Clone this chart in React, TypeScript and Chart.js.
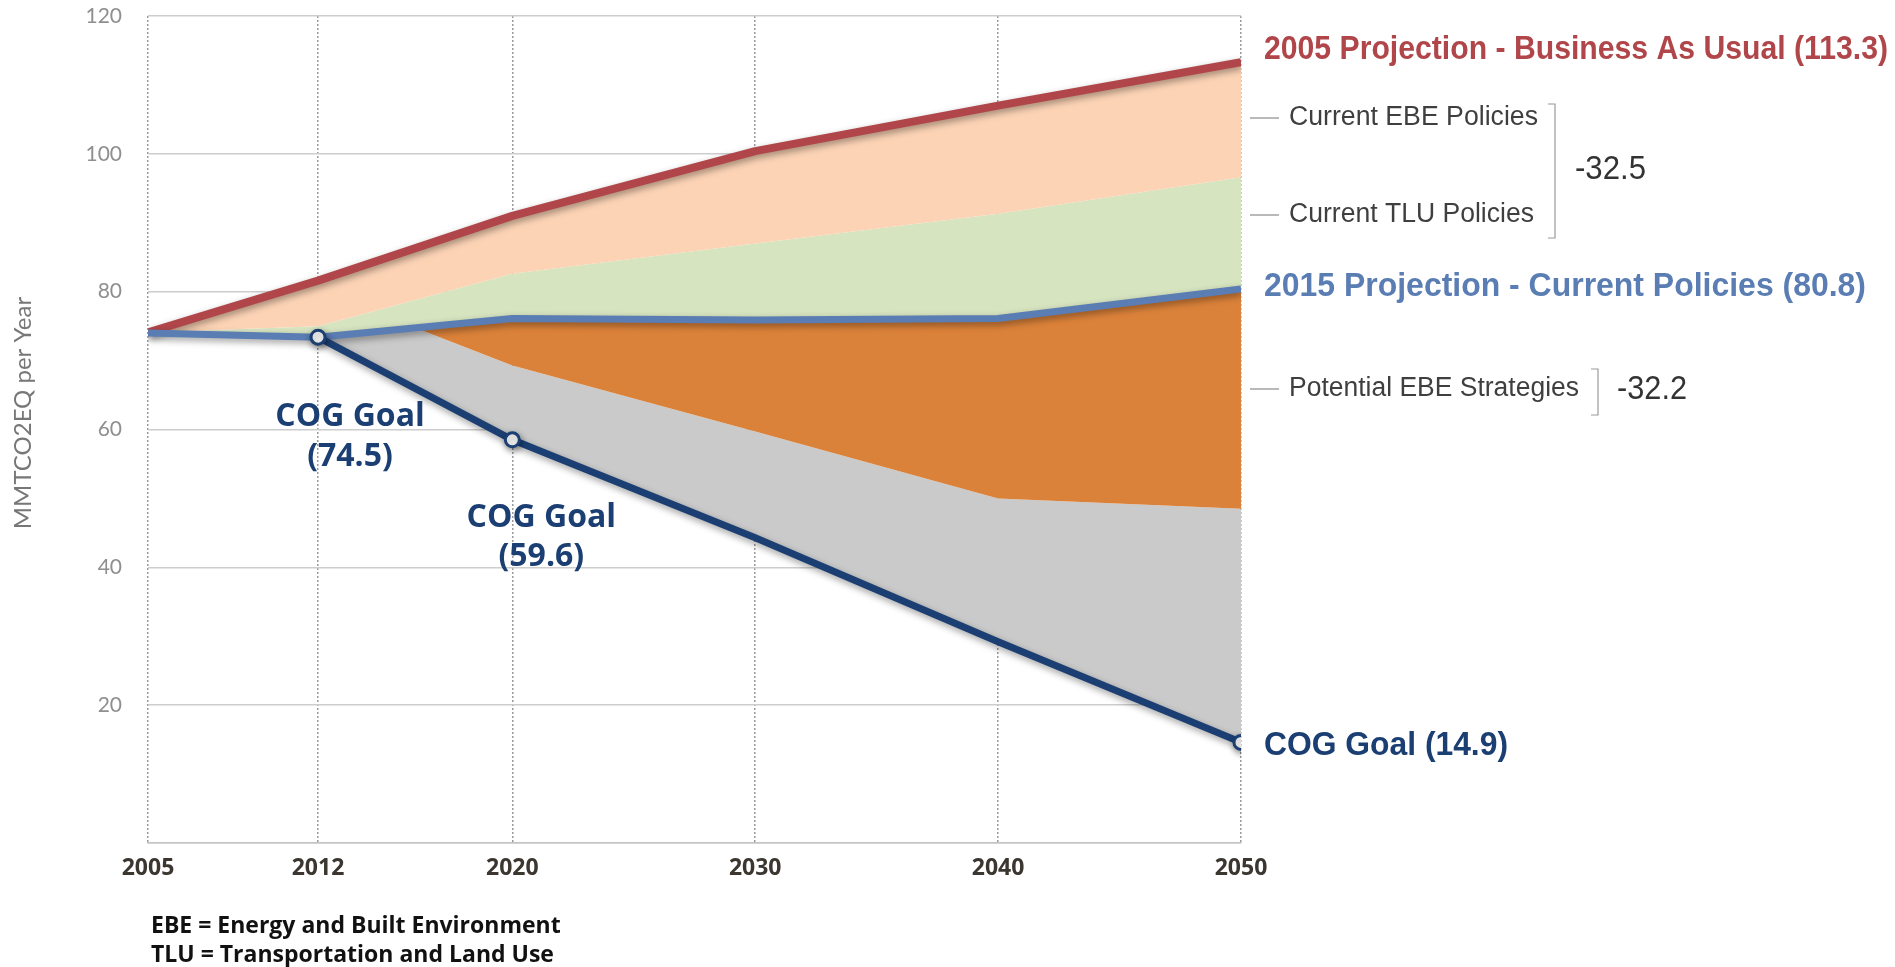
import React, { useEffect, useRef } from "react";
import { Chart, registerables } from "chart.js";

Chart.register(...registerables);

// ---------- data ----------
const years = [2005, 2012, 2020, 2030, 2040, 2050];
const yTickValues = [0, 20, 40, 60, 80, 100, 120];
const bauValues = [74.1, 81.6, 91.0, 100.4, 107.0, 113.3]; // 2005 Projection - Business As Usual
const tluTopValues = [74.1, 75.0, 82.6, 87.0, 91.3, 96.6]; // upper edge of Current TLU Policies wedge
const currentValues = [74.0, 73.4, 76.1, 75.9, 76.1, 80.4]; // 2015 Projection - Current Policies
const strategyYears = [2012, 2016, 2020, 2030, 2040, 2050];
const strategyBottomValues = [73.4, 74.75, 69.3, 59.7, 50.0, 48.5]; // lower edge of Potential EBE Strategies
const goalYears = [2012, 2020, 2030, 2040, 2050];
const goalValues = [73.4, 58.5, 44.3, 29.2, 14.6]; // COG goal path
const goalPointRadius = [7, 7, 0, 0, 7];

const xTickLabels = ["2005", "2012", "2020", "2030", "2040", "2050"];
const yTitle = "MMTCO2EQ per Year";
const bauLabel = "2005 Projection - Business As Usual (113.3)";
const currentLabel = "2015 Projection - Current Policies (80.8)";
const goalLabel = "COG Goal (14.9)";
const ebeLabel = "Current EBE Policies";
const tluLabel = "Current TLU Policies";
const strategyLabel = "Potential EBE Strategies";
const policiesTotal = "-32.5";
const strategiesTotal = "-32.2";
const goal2012Label = ["COG Goal", "(74.5)"];
const goal2020Label = ["COG Goal", "(59.6)"];
const footnotes = ["EBE = Energy and Built Environment", "TLU = Transportation and Land Use"];

const RED = "#b1464a";
const BLUE = "#5a7db3";
const NAVY = "#1b3f73";

const toPts = (xs: number[], ys: number[]) => xs.map((x, i) => ({ x, y: ys[i] }));

const shadowPlugin = {
  id: "lineShadow",
  beforeDatasetDraw(chart: any, args: any) {
    const ds = chart.data.datasets[args.index];
    if (!ds.borderWidth) return;
    const ctx = chart.ctx;
    ctx.save();
    ctx.shadowColor = "rgba(0,0,0,0.38)";
    ctx.shadowBlur = 7;
    ctx.shadowOffsetX = 1;
    ctx.shadowOffsetY = 3;
  },
  afterDatasetDraw(chart: any, args: any) {
    const ds = chart.data.datasets[args.index];
    if (!ds.borderWidth) return;
    chart.ctx.restore();
  },
};

function txt(
  ctx: CanvasRenderingContext2D,
  text: string,
  x: number,
  y: number,
  font: string,
  color: string,
  align: CanvasTextAlign = "left",
  maxW?: number
) {
  ctx.font = font;
  ctx.fillStyle = color;
  ctx.textAlign = align;
  ctx.textBaseline = "middle";
  if (maxW) ctx.fillText(text, x, y, maxW);
  else ctx.fillText(text, x, y);
}

const annotationPlugin = {
  id: "annotations",
  afterDraw(chart: any) {
    const ctx: CanvasRenderingContext2D = chart.ctx;
    const area = chart.chartArea;
    const xs = chart.scales.x;
    const R = area.right;
    ctx.save();

    // y axis title
    ctx.save();
    ctx.translate(23, 413);
    ctx.rotate(-Math.PI / 2);
    txt(ctx, yTitle, 0, 0, "24px Lato", "#777", "center");
    ctx.restore();

    // right-side series labels
    const lf = "bold 32.5px 'Liberation Sans'";
    txt(ctx, bauLabel, R + 23, 50, "bold 34px 'Liberation Sans'", RED, "left", 624);
    txt(ctx, currentLabel, R + 23, 287, lf, BLUE, "left", 602);
    txt(ctx, goalLabel, R + 23, 746, lf, NAVY, "left", 244);

    // category labels with leader lines
    const grey = "#3f3f3f";
    const cats: [string, number, number][] = [
      [ebeLabel, 118, 249],
      [tluLabel, 215, 245],
      [strategyLabel, 389, 290],
    ];
    ctx.strokeStyle = "#8a8a8a";
    ctx.lineWidth = 1.2;
    for (const [t, y, w] of cats) {
      ctx.beginPath();
      ctx.moveTo(R + 9, y);
      ctx.lineTo(R + 38, y);
      ctx.stroke();
      txt(ctx, t, R + 48, y, "27px 'Liberation Sans'", grey, "left", w);
    }
    // brackets
    ctx.strokeStyle = "#9a9a9a";
    ctx.lineWidth = 1.2;
    const bracket = (x: number, y1: number, y2: number) => {
      ctx.beginPath();
      ctx.moveTo(x - 7, y1);
      ctx.lineTo(x, y1);
      ctx.lineTo(x, y2);
      ctx.lineTo(x - 7, y2);
      ctx.stroke();
    };
    bracket(R + 314, 104, 238);
    bracket(R + 357, 369, 415);
    txt(ctx, policiesTotal, R + 334, 170, "33px 'Liberation Sans'", "#333", "left", 71);
    txt(ctx, strategiesTotal, R + 376, 390, "33px 'Liberation Sans'", "#333", "left", 70);

    // COG goal labels inside the plot
    const x12 = xs.getPixelForValue(2012) + 32;
    const x20 = xs.getPixelForValue(2020) + 29;
    const gf = "bold 32px 'Open Sans'";
    txt(ctx, goal2012Label[0], x12, 417, gf, NAVY, "center", 152);
    txt(ctx, goal2012Label[1], x12, 457, gf, NAVY, "center");
    txt(ctx, goal2020Label[0], x20, 518, gf, NAVY, "center", 152);
    txt(ctx, goal2020Label[1], x20, 557, gf, NAVY, "center");

    // footnotes
    txt(ctx, footnotes[0], area.left + 3, 926, "bold 23px 'Open Sans'", "#111", "left", 417);
    txt(ctx, footnotes[1], area.left + 3, 955, "bold 23px 'Open Sans'", "#111", "left", 408);
    ctx.restore();
  },
};

export default function App() {
  const ref = useRef<HTMLCanvasElement | null>(null);

  useEffect(() => {
    document.body.style.margin = "0";
    document.body.style.overflow = "hidden";
    const canvas = ref.current;
    if (!canvas) return;
    const chart = new Chart(canvas, {
      type: "line",
      data: {
        datasets: [
          {
            label: "2005 Projection - Business As Usual",
            data: toPts(years, bauValues),
            borderColor: RED,
            borderWidth: 8,
            pointRadius: 0,
            backgroundColor: "#fcd3b5",
            fill: { target: 1 },
            order: 2,
          },
          {
            label: "Current TLU Policies",
            data: toPts(years, tluTopValues),
            borderColor: "transparent",
            borderWidth: 0,
            pointRadius: 0,
            backgroundColor: "#d7e4c0",
            fill: { target: 2 },
            order: 3,
          },
          {
            label: "2015 Projection - Current Policies",
            data: toPts(years, currentValues),
            borderColor: BLUE,
            borderWidth: 7,
            pointRadius: 0,
            backgroundColor: "#db823a",
            fill: { target: 3 },
            order: 1,
          },
          {
            label: "Potential EBE Strategies",
            data: toPts(strategyYears, strategyBottomValues),
            borderColor: "transparent",
            borderWidth: 0,
            pointRadius: 0,
            backgroundColor: "#cacaca",
            fill: { target: 4 },
            order: 4,
          },
          {
            label: "COG Goal",
            data: toPts(goalYears, goalValues),
            borderColor: NAVY,
            borderWidth: 7,
            pointRadius: goalPointRadius,
            pointBackgroundColor: "#ffffff",
            pointBorderColor: NAVY,
            pointBorderWidth: 3,
            fill: false,
            order: 0,
          },
        ] as any,
      },
      options: {
        animation: false,
        responsive: true,
        maintainAspectRatio: false,
        events: [],
        layout: { padding: { top: 16, right: 654, bottom: 0, left: 0 } },
        elements: { line: { tension: 0, borderJoinStyle: "round", borderCapStyle: "butt" } },
        plugins: {
          legend: { display: false },
          tooltip: { enabled: false },
          filler: { drawTime: "beforeDatasetsDraw" },
        } as any,
        scales: {
          x: {
            type: "linear",
            min: years[0],
            max: years[years.length - 1],
            afterBuildTicks: (scale: any) => {
              scale.ticks = years.map((v) => ({ value: v }));
            },
            afterFit: (scale: any) => {
              scale.height = 124;
            },
            ticks: {
              autoSkip: false,
              maxRotation: 0,
              padding: 12,
              color: "#3b3630",
              font: { family: "'Open Sans'", size: 23, weight: "bold" },
              callback: (v: any) => xTickLabels[years.indexOf(Number(v))] ?? "",
            },
            grid: { color: "#9a9a9a", lineWidth: 1.5, drawTicks: false },
            border: { display: true, color: "#c4c4c4", width: 1.5, dash: [2, 2] },
          },
          y: {
            min: 0,
            max: 120,
            afterBuildTicks: (scale: any) => {
              scale.ticks = yTickValues.map((v) => ({ value: v }));
            },
            afterFit: (scale: any) => {
              scale.width = 148;
              scale.paddingTop = 0;
              scale.paddingBottom = 0;
            },
            ticks: {
              padding: 26,
              color: "#8f8f8f",
              font: { family: "Lato", size: 21 },
              callback: (v: any) => (Number(v) === 0 ? "" : String(v)),
            },
            grid: { color: "#cdcdcd", lineWidth: 1.5, drawTicks: false },
            border: { display: false },
          },
        },
      } as any,
      plugins: [shadowPlugin, annotationPlugin],
    });
    return () => chart.destroy();
  }, []);

  return (
    <div style={{ width: "1895px", height: "967px", position: "relative" }}>
      <canvas ref={ref} />
    </div>
  );
}
